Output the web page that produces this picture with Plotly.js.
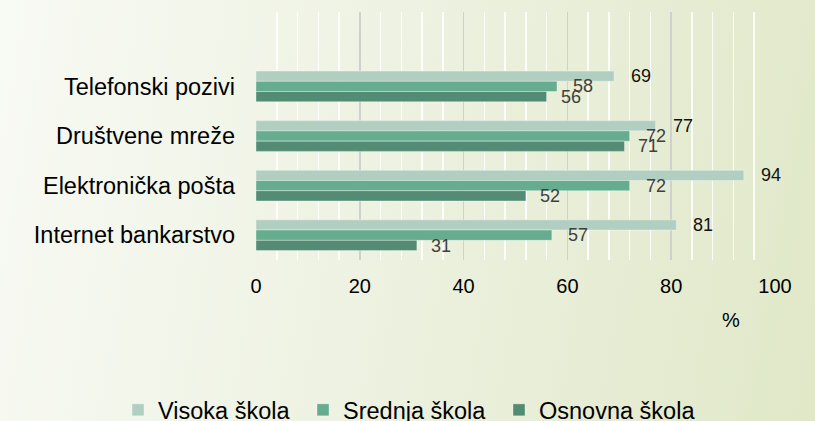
<!DOCTYPE html>
<html>
<head>
<meta charset="utf-8">
<script src="https://cdn.plot.ly/plotly-3.0.1.min.js"></script>
<style>
  html, body { margin: 0; padding: 0; }
  body { width: 815px; height: 421px; overflow: hidden;
         background: linear-gradient(100deg, #f8faf4 0%, #eef2e2 45%, #e0e8c8 100%); }
  #chart { width: 815px; height: 421px; }
</style>
</head>
<body>
<div id="chart"></div>
<script>
const categories = ["Telefonski pozivi", "Društvene mreže", "Elektronička pošta", "Internet bankarstvo"];
const seriesNames = ["Visoka škola", "Srednja škola", "Osnovna škola"];
const visoka = [69, 77, 94, 81];
const srednja = [58, 72, 72, 57];
const osnovna = [56, 71, 52, 31];
const xTicks = [0, 20, 40, 60, 80, 100];
const xUnit = "%";

const colors = ["#b1cfc1", "#66ac8f", "#548b74"];
const labelColors = ["#111111", "#404040", "#404040"];
const allSeries = [visoka, srednja, osnovna];
const legendIds = ["legend", "legend2", "legend3"];
const legendX = [0.1448, 0.3718, 0.6123];

const traces = allSeries.map((vals, i) => ({
  type: "bar",
  orientation: "h",
  name: seriesNames[i],
  x: vals,
  y: categories,
  legend: legendIds[i],
  marker: { color: colors[i], line: { color: "rgba(255,255,255,0.35)", width: 1 } },
  hoverinfo: "skip"
}));

const yShifts = [10.3, 0, -10.3];
const xShifts = [15, 14, 12];
const annotations = [];
allSeries.forEach((vals, i) => {
  vals.forEach((v, j) => {
    annotations.push({
      x: v, y: categories[j], xref: "x", yref: "y",
      text: String(v), showarrow: false,
      xanchor: "left", yanchor: "middle",
      xshift: xShifts[i], yshift: yShifts[i],
      font: { family: "Liberation Sans, Arial, sans-serif", size: 18, color: labelColors[i] }
    });
  });
});
annotations.push({
  x: 0.915, y: -0.242, xref: "paper", yref: "paper",
  text: xUnit, showarrow: false, xanchor: "center", yanchor: "middle",
  font: { family: "Liberation Sans, Arial, sans-serif", size: 20, color: "#000" }
});

const layout = {
  width: 815, height: 421,
  margin: { l: 256, r: 40, t: 12, b: 161, autoexpand: false },
  paper_bgcolor: "rgba(0,0,0,0)",
  plot_bgcolor: "rgba(0,0,0,0)",
  barmode: "group",
  bargap: 0.38,
  bargroupgap: 0,
  font: { family: "Liberation Sans, Arial, sans-serif", color: "#000" },
  xaxis: {
    range: [0, 100],
    tickvals: xTicks,
    ticktext: xTicks.map(String),
    showgrid: true, gridcolor: "#d0d0d0", gridwidth: 1.5,
    minor: { dtick: 4, showgrid: true, gridcolor: "rgba(255,255,255,0.85)", gridwidth: 1.5 },
    zeroline: false, showline: false, ticks: "",
    ticklabelstandoff: 12,
    tickfont: { size: 20, color: "#000" },
    fixedrange: true
  },
  yaxis: {
    type: "category",
    categoryorder: "array", categoryarray: categories,
    range: [3.5, -1.5],
    showgrid: false, zeroline: false, showline: false, ticks: "",
    ticklabelstandoff: 20,
    tickfont: { size: 23.5, color: "#000" },
    fixedrange: true
  },
  showlegend: true,
  annotations: annotations
};
legendIds.forEach((id, i) => {
  layout[id] = {
    orientation: "h",
    xref: "container", yref: "container",
    x: legendX[i], xanchor: "left",
    y: 0.026, yanchor: "middle",
    font: { size: 23.5, color: "#000" },
    bgcolor: "rgba(0,0,0,0)"
  };
});

Plotly.newPlot("chart", traces, layout, { displayModeBar: false, staticPlot: true });
</script>
</body>
</html>
